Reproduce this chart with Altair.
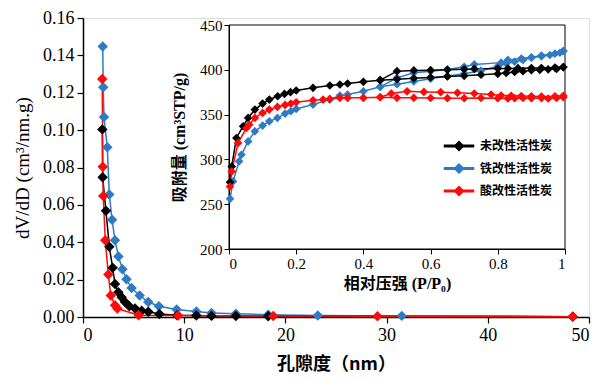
import altair as alt
import pandas as pd

# ---------------- data ----------------
series_names = ["未改性活性炭", "铁改性活性炭", "酸改性活性炭"]
series_colors = ["#000000", "#2e7bc4", "#ff0a0a"]

# main chart: pore size distribution
black_d = [1.91, 1.94, 2.27, 2.6, 2.93, 3.16, 3.49, 3.82, 4.15, 4.58, 5.14, 5.8, 6.45, 7.54, 9.3, 11.2, 12.7, 15.1, 18.3, 48.4]
black_dv = [0.1004, 0.0748, 0.0568, 0.0376, 0.0263, 0.0176, 0.0132, 0.0106, 0.0080, 0.0058, 0.0045, 0.0033, 0.0028, 0.0016, 0.0010, 0.0008, 0.0006, 0.0005, 0.0004, 0.0002]

blue_d = [1.95, 2.0, 2.07, 2.4, 2.6, 2.87, 3.16, 3.5, 3.9, 4.3, 4.8, 5.6, 6.45, 7.5, 9.25, 11.2, 12.7, 15.1, 18.3, 23.2, 31.5, 48.4]
blue_dv = [0.1448, 0.123, 0.107, 0.0908, 0.0655, 0.0521, 0.0411, 0.0324, 0.0255, 0.0202, 0.0155, 0.0115, 0.0080, 0.0058, 0.0040, 0.0030, 0.0022, 0.0018, 0.0012, 0.0008, 0.0006, 0.0002]

red_d = [1.9, 1.95, 2.0, 2.2, 2.5, 2.74, 3.16, 3.4, 5.5, 9.4, 18.8, 29.1, 48.4]
red_dv = [0.1274, 0.0804, 0.0647, 0.0411, 0.0228, 0.0115, 0.0063, 0.0045, 0.0010, 0.0008, 0.0005, 0.0004, 0.0002]

# inset: adsorption / desorption isotherms
black_ads_p = [0.003, 0.008, 0.022, 0.042, 0.057, 0.077, 0.10, 0.12, 0.145, 0.165, 0.183, 0.20, 0.25, 0.30, 0.33, 0.353, 0.40, 0.45, 0.50, 0.55, 0.60, 0.65, 0.70, 0.75, 0.80, 0.825, 0.85, 0.875, 0.90, 0.925, 0.95, 0.975, 0.995]
black_ads_v = [274.6, 292.0, 323.9, 337.0, 346.3, 355.6, 362.3, 366.8, 370.5, 373.1, 375.0, 376.9, 379.9, 382.5, 383.6, 384.7, 386.6, 388.4, 389.5, 390.5, 391.5, 392.5, 393.3, 394.5, 395.5, 396.5, 397.5, 398.5, 399.5, 400.0, 400.5, 401.0, 403.0]
black_des_p = [0.45, 0.50, 0.55, 0.60, 0.65, 0.70, 0.73, 0.80, 0.83, 0.86, 0.90, 0.93, 0.97, 0.995]
black_des_v = [388.4, 398.5, 399.3, 399.6, 400.0, 400.5, 401.0, 401.5, 401.5, 401.8, 402.0, 402.0, 402.5, 403.0]

blue_ads_p = [0.003, 0.012, 0.03, 0.037, 0.057, 0.077, 0.10, 0.12, 0.144, 0.167, 0.184, 0.20, 0.25, 0.30, 0.33, 0.353, 0.40, 0.45, 0.50, 0.55, 0.60, 0.65, 0.70, 0.75, 0.80, 0.825, 0.85, 0.875, 0.90, 0.93, 0.955, 0.985, 0.995]
blue_ads_v = [256.0, 275.4, 297.8, 305.2, 320.1, 331.3, 337.7, 342.5, 346.3, 351.1, 353.7, 356.3, 361.2, 366.8, 371.3, 372.4, 376.1, 381.0, 384.0, 387.0, 390.0, 393.0, 395.5, 399.0, 404.0, 407.0, 409.0, 411.0, 413.5, 415.0, 416.5, 419.0, 421.0]
blue_des_p = [0.45, 0.50, 0.55, 0.60, 0.65, 0.70, 0.73, 0.81, 0.83, 0.87, 0.90, 0.93, 0.97, 0.995]
blue_des_v = [381.0, 391.0, 396.6, 398.5, 400.4, 403.4, 406.0, 408.0, 411.0, 412.5, 414.0, 416.0, 418.0, 421.0]

red_ads_p = [0.003, 0.008, 0.027, 0.052, 0.06, 0.077, 0.10, 0.12, 0.144, 0.167, 0.184, 0.20, 0.25, 0.28, 0.30, 0.33, 0.353, 0.40, 0.45, 0.50, 0.55, 0.60, 0.65, 0.70, 0.75, 0.80, 0.83, 0.85, 0.875, 0.90, 0.93, 0.95, 0.975, 0.995]
red_ads_v = [269.8, 286.6, 318.3, 335.0, 338.8, 346.3, 351.9, 355.6, 358.6, 360.8, 362.3, 363.8, 366.0, 366.8, 367.5, 368.7, 368.7, 368.7, 369.4, 368.7, 368.7, 368.5, 368.3, 368.3, 368.5, 368.2, 368.0, 368.2, 368.5, 368.3, 368.4, 368.0, 368.5, 369.5]
red_des_p = [0.45, 0.483, 0.53, 0.58, 0.63, 0.68, 0.73, 0.78, 0.81, 0.84, 0.87, 0.90, 0.93, 0.97, 0.995]
red_des_v = [369.4, 373.5, 376.0, 375.3, 375.0, 374.3, 373.5, 372.4, 371.3, 371.0, 370.8, 370.5, 370.2, 370.5, 371.0]

main_x_ticks = [0, 10, 20, 30, 40, 50]
main_y_ticks = [0, 0.02, 0.04, 0.06, 0.08, 0.10, 0.12, 0.14, 0.16]
inset_x_ticks = [0, 0.2, 0.4, 0.6, 0.8, 1]
inset_y_ticks = [200, 250, 300, 350, 400, 450]

# ---------------- tables ----------------
main_rows = []
for name, xs, ys in [(series_names[1], blue_d, blue_dv), (series_names[0], black_d, black_dv), (series_names[2], red_d, red_dv)]:
    for a, b in zip(xs, ys):
        main_rows.append({"series": name, "d": a, "dv": b})
main_df = pd.DataFrame(main_rows)

ins_rows = []
for name, branches in [
    (series_names[1], [("ads", blue_ads_p, blue_ads_v), ("des", blue_des_p, blue_des_v)]),
    (series_names[0], [("ads", black_ads_p, black_ads_v), ("des", black_des_p, black_des_v)]),
    (series_names[2], [("ads", red_ads_p, red_ads_v), ("des", red_des_p, red_des_v)]),
]:
    for br, ps, vs in branches:
        for a, b in zip(ps, vs):
            ins_rows.append({"series": name, "branch": name + br, "p": a, "v": b})
ins_df = pd.DataFrame(ins_rows)

box_df = pd.DataFrame([{"p0": inset_x_ticks[0], "p1": inset_x_ticks[-1],
                        "v0": inset_y_ticks[0], "v1": inset_y_ticks[-1]}])

# ---------------- layout ----------------
TOP = 10
W, H = 506, 317 - 8 - TOP
IX0, IX1 = 146, 482      # inset plot area (pixels inside main plot)
IY0, IY1 = 25 - 8 - TOP, 249 - 8 - TOP

SERIF = "Liberation Serif"
MIX = "Liberation Serif, Noto Sans CJK SC"

legend_path = "M-1.45,-0.08H1.45V0.08H-1.45Z M0,-0.45L0.45,0L0,0.45L-0.45,0Z"
color_enc = alt.Color(
    "series:N",
    scale=alt.Scale(domain=series_names, range=series_colors),
    legend=alt.Legend(
        title=None, orient="none", legendX=365, legendY=124 - (TOP - 3),
        symbolType=legend_path, symbolSize=400, symbolStrokeWidth=1.5,
        labelFont="Noto Sans CJK SC", labelFontSize=12, labelFontWeight="bold",
        labelColor="black", labelOffset=10, rowPadding=3.5, padding=0,
    ),
)

# main chart
mx = alt.X("d:Q", scale=alt.Scale(domain=[0, 50], nice=False),
           axis=alt.Axis(values=main_x_ticks, title="孔隙度（nm）", titleFont="Noto Sans CJK SC",
                         titleFontSize=18, titleFontWeight="bold", titlePadding=11,
                         labelFont=SERIF, labelFontSize=18, tickSize=6, labelPadding=3,
                         grid=False, domainColor="black", tickColor="black", labelColor="black",
                         domainWidth=1.5, tickWidth=1.2, titleColor="black"))
my = alt.Y("dv:Q", scale=alt.Scale(domain=[0, 0.16], nice=False),
           axis=alt.Axis(values=main_y_ticks, format=".2f", title="dV/dD (cm³/nm.g)", titleFont=SERIF,
                         titleFontSize=19, titleFontWeight="normal", titlePadding=10,
                         labelFont=SERIF, labelFontSize=18, tickSize=6, labelPadding=3,
                         grid=False, domainColor="black", tickColor="black", labelColor="black",
                         domainWidth=1.5, tickWidth=1.2, titleColor="black"))

main_line = alt.Chart(main_df).mark_line(strokeWidth=1.5).encode(x=mx, y=my, color=color_enc, detail="series:N")
main_pts = alt.Chart(main_df).mark_point(shape="diamond", filled=True, size=110, opacity=1).encode(x=mx, y=my, color=color_enc)
main = alt.layer(main_line, main_pts)

# inset
ix_scale = alt.Scale(domain=[0, 1], range=[IX0, IX1], nice=False, zero=False)
iy_scale = alt.Scale(domain=[200, 450], range=[IY1, IY0], nice=False, zero=False)
ix_axis = alt.Axis(orient="bottom", offset=-(H - IY1), values=inset_x_ticks, format="~g",
                   title="相对压强 (P/P₀)", titleFont=MIX, titleFontSize=16, titleFontWeight="bold",
                   titlePadding=4, labelFont=SERIF, labelFontSize=15, tickSize=5, labelPadding=2,
                   grid=False, domainColor="black", tickColor="black", labelColor="black",
                   titleColor="black")
iy_axis = alt.Axis(orient="left", offset=-IX0, values=inset_y_ticks,
                   title="吸附量 (cm³STP/g)", titleFont=MIX, titleFontSize=16, titleFontWeight="bold",
                   titlePadding=12, labelFont=SERIF, labelFontSize=15, tickSize=5, labelPadding=2,
                   grid=False, domainColor="black", tickColor="black", labelColor="black",
                   titleColor="black")
ix = alt.X("p:Q", scale=ix_scale, axis=ix_axis)
iy = alt.Y("v:Q", scale=iy_scale, axis=iy_axis)

inset_box = alt.Chart(box_df).mark_rect(fillOpacity=0, stroke="black", strokeWidth=1).encode(
    x=alt.X("p0:Q", scale=ix_scale, axis=ix_axis), x2="p1:Q",
    y=alt.Y("v0:Q", scale=iy_scale, axis=iy_axis), y2="v1:Q")
inset_line = alt.Chart(ins_df).mark_line(strokeWidth=1.5).encode(x=ix, y=iy, color=color_enc, detail="branch:N")
inset_pts = alt.Chart(ins_df).mark_point(shape="diamond", filled=True, size=75, opacity=1).encode(x=ix, y=iy, color=color_enc)
inset = alt.layer(inset_box, inset_line, inset_pts)

chart = alt.layer(main, inset).resolve_scale(x="independent", y="independent").properties(
    width=W, height=H,
    autosize=alt.AutoSizeParams(type="none"),
    padding={"left": 75, "top": TOP, "right": 3, "bottom": 56},
).configure_view(stroke="black", strokeWidth=1.2).configure(background="white")

chart.save("out.html", embed_options={"renderer": "svg", "actions": False})
